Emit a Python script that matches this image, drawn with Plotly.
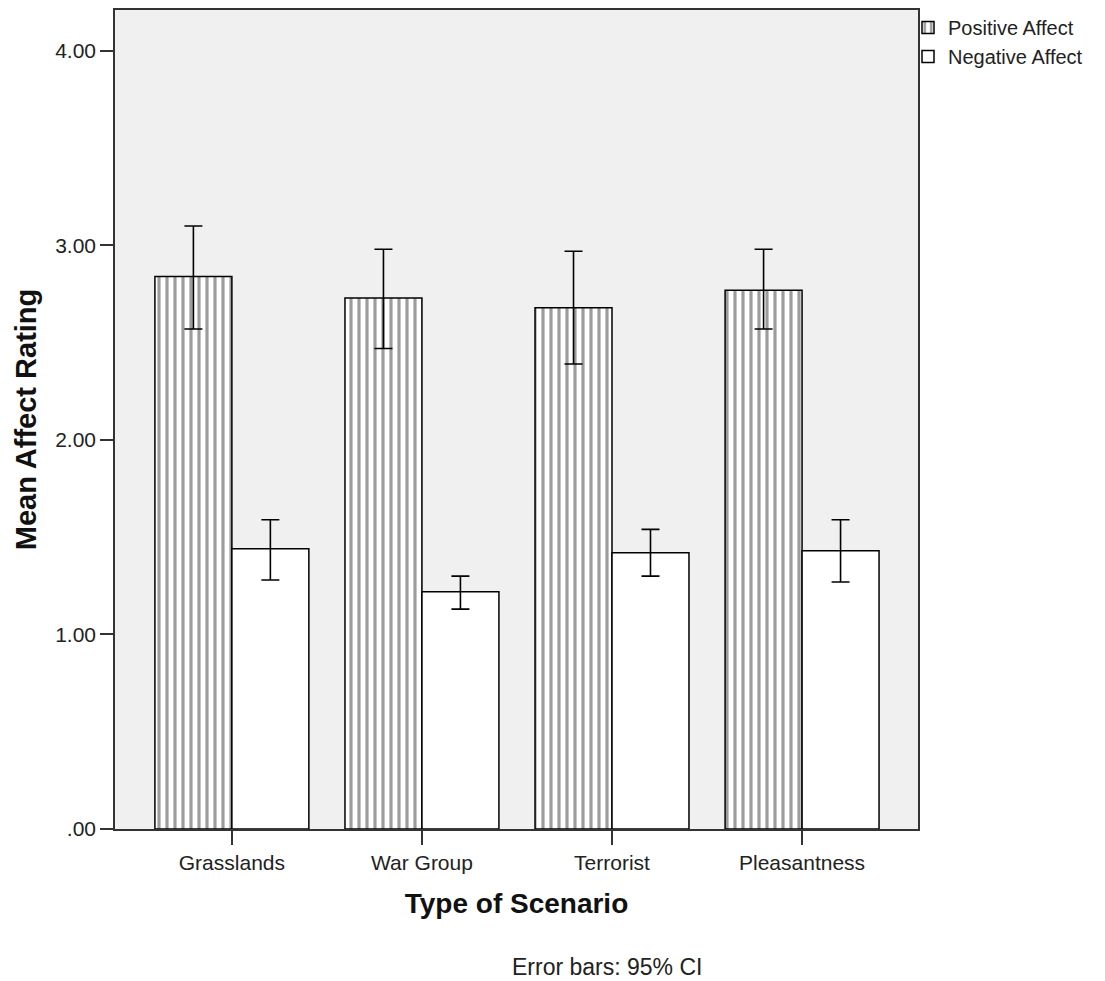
import plotly.graph_objects as go

categories = ["Grasslands", "War Group", "Terrorist", "Pleasantness"]

pos_mean = [2.84, 2.73, 2.68, 2.77]
pos_ci_low = [2.57, 2.47, 2.39, 2.57]
pos_ci_high = [3.10, 2.98, 2.97, 2.98]

neg_mean = [1.44, 1.22, 1.42, 1.43]
neg_ci_low = [1.28, 1.13, 1.30, 1.27]
neg_ci_high = [1.59, 1.30, 1.54, 1.59]

y_tickvals = [0, 1, 2, 3, 4]
y_ticktext = [".00", "1.00", "2.00", "3.00", "4.00"]

FONT = "Arial, Liberation Sans, Helvetica, sans-serif"

# page has an 8px default body margin; figure is sized to fit the window
W, H = 1097, 973
L, R, T, B = 107, 187, 2, 152
PW, PH = W - L - R, H - T - B


def err(mean, lo, hi):
    return dict(
        type="data",
        symmetric=False,
        array=[h - m for m, h in zip(mean, hi)],
        arrayminus=[m - l for m, l in zip(mean, lo)],
        color="black",
        thickness=1.6,
        width=9,
    )


fig = go.Figure()
fig.add_trace(go.Bar(
    name="Positive Affect",
    x=categories,
    y=pos_mean,
    error_y=err(pos_mean, pos_ci_low, pos_ci_high),
    marker=dict(
        color="white",
        line=dict(color="black", width=1.5),
        pattern=dict(shape="|", size=8, solidity=0.4, fgcolor="#3a3a3a", bgcolor="white"),
    ),
))
fig.add_trace(go.Bar(
    name="Negative Affect",
    x=categories,
    y=neg_mean,
    error_y=err(neg_mean, neg_ci_low, neg_ci_high),
    marker=dict(color="white", line=dict(color="black", width=1.5)),
))

fig.update_layout(
    width=W,
    height=H,
    barmode="group",
    bargap=0.19,
    bargroupgap=0,
    paper_bgcolor="white",
    plot_bgcolor="#f0f0f0",
    margin=dict(l=L, r=R, t=T, b=B, pad=0, autoexpand=False),
    font=dict(family=FONT, color="#222222", size=21),
    showlegend=True,
    legend=dict(
        xref="container", yref="container",
        x=(908 - 8) / W, xanchor="left", y=1, yanchor="top",
        font=dict(size=20, color="#222222"),
        bgcolor="rgba(0,0,0,0)",
        tracegroupgap=0,
        itemwidth=30,
    ),
    xaxis=dict(
        range=[-0.615, 3.61],
        showline=True, linecolor="#333333", linewidth=1.5, mirror=True,
        ticks="outside", ticklen=14, tickwidth=1.5, tickcolor="#333333",
        tickfont=dict(size=21, color="#222222"),
        showgrid=False, zeroline=False,
        title=dict(text="<b>Type of Scenario</b>", font=dict(size=28, color="#111111"), standoff=20),
    ),
    yaxis=dict(
        range=[0, 4.21],
        tickvals=y_tickvals, ticktext=y_ticktext,
        showline=True, linecolor="#333333", linewidth=1.5, mirror=True,
        ticks="outside", ticklen=13, tickwidth=1.5, tickcolor="#333333",
        tickfont=dict(size=21, color="#222222"),
        showgrid=False, zeroline=False,
        title=dict(text="<b>Mean Affect Rating</b>", font=dict(size=29, color="#111111"), standoff=10),
    ),
    annotations=[dict(
        text="Error bars: 95% CI",
        xref="paper", yref="paper",
        x=(607 - 8 - L) / PW, y=(821 - 959) / PH,
        xanchor="center", yanchor="middle",
        showarrow=False,
        font=dict(size=23, color="#222222", family=FONT),
    )],
)

fig.write_html("out.html")
